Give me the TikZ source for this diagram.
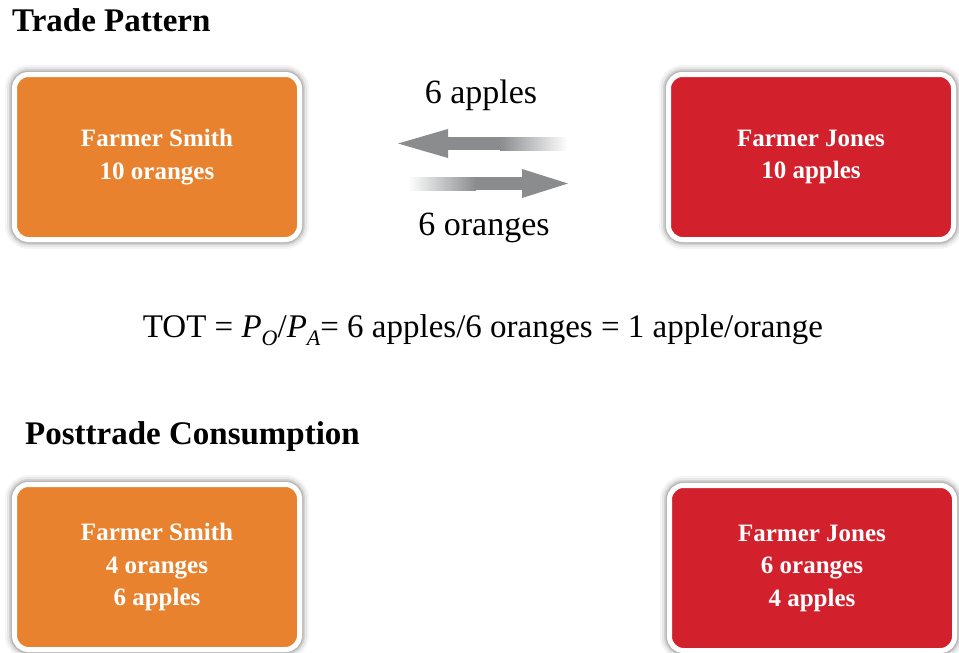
\documentclass[tikz,border=0pt]{standalone}
\usepackage{fontspec}
\setmainfont{Liberation Serif}
\usetikzlibrary{calc,positioning}

\definecolor{smithorange}{RGB}{233,130,46}
\definecolor{jonesred}{RGB}{210,32,44}
\definecolor{arrowgray}{RGB}{138,140,142}

\newcommand{\subit}[1]{\raisebox{-.55ex}{\fontsize{22}{22}\selectfont\itshape #1}}

\tikzset{
	farmer/.style={rectangle, rounded corners=14pt, draw=white, line width=5pt,
		minimum width=285pt, minimum height=165pt, inner sep=0pt,
		text=white, align=center, font=\fontsize{25}{32.5}\selectfont\bfseries,
		preaction={draw=black, line width=19pt, opacity=0.04},
		preaction={draw=black, line width=15pt, opacity=0.06},
		preaction={draw=black, line width=11pt, opacity=0.09},
		preaction={draw=black, line width=8pt, opacity=0.12}},
	heading/.style={anchor=west, inner sep=0pt, font=\fontsize{33}{36}\selectfont\bfseries},
	flowlabel/.style={inner sep=0pt, font=\fontsize{34}{38}\selectfont}
}

\begin{document}
\begin{tikzpicture}[x=1pt,y=-1pt]
	\useasboundingbox (0,0) rectangle (959,653);

	\node[heading] (trade) at (12,20) {Trade Pattern};
	\node[heading] (post) at (25,437) {Posttrade Consumption};

	\node[farmer, fill=smithorange] (smith1) at (157,157) {Farmer Smith\\10 oranges};
	\node[farmer, fill=jonesred] (jones1) at (811,157) {Farmer Jones\\10 apples};
	\node[farmer, fill=smithorange] (smith2) at (157,567) {Farmer Smith\\4 oranges\\6 apples};
	\node[farmer, fill=jonesred] (jones2) at (812,568) {Farmer Jones\\6 oranges\\4 apples};

	% apples go to Smith
	\coordinate (atip) at (398,143.5);
	\shade[left color=arrowgray, right color=white] (500,137) rectangle (568,150);
	\fill[arrowgray] (446,137) rectangle (501,150);
	\fill[arrowgray] (atip) -- (448,129) -- (448,158) -- cycle;
	% oranges go to Jones
	\coordinate (otip) at (568,183.5);
	\shade[left color=white, right color=arrowgray] (408,177) rectangle (476,190);
	\fill[arrowgray] (475,177) rectangle (524,190);
	\fill[arrowgray] (otip) -- (522,169) -- (522,198) -- cycle;

	\node[flowlabel] (apples) at (481,95) {6 apples};
	\node[flowlabel] (oranges) at (484,228) {6 oranges};

	\node[flowlabel, font=\fontsize{33}{36}\selectfont] (tot) at (483,330) {TOT = \textit{P}\subit{O}/\textit{P}\subit{A}= 6 apples/6 oranges = 1 apple/orange};
\end{tikzpicture}
\end{document}
